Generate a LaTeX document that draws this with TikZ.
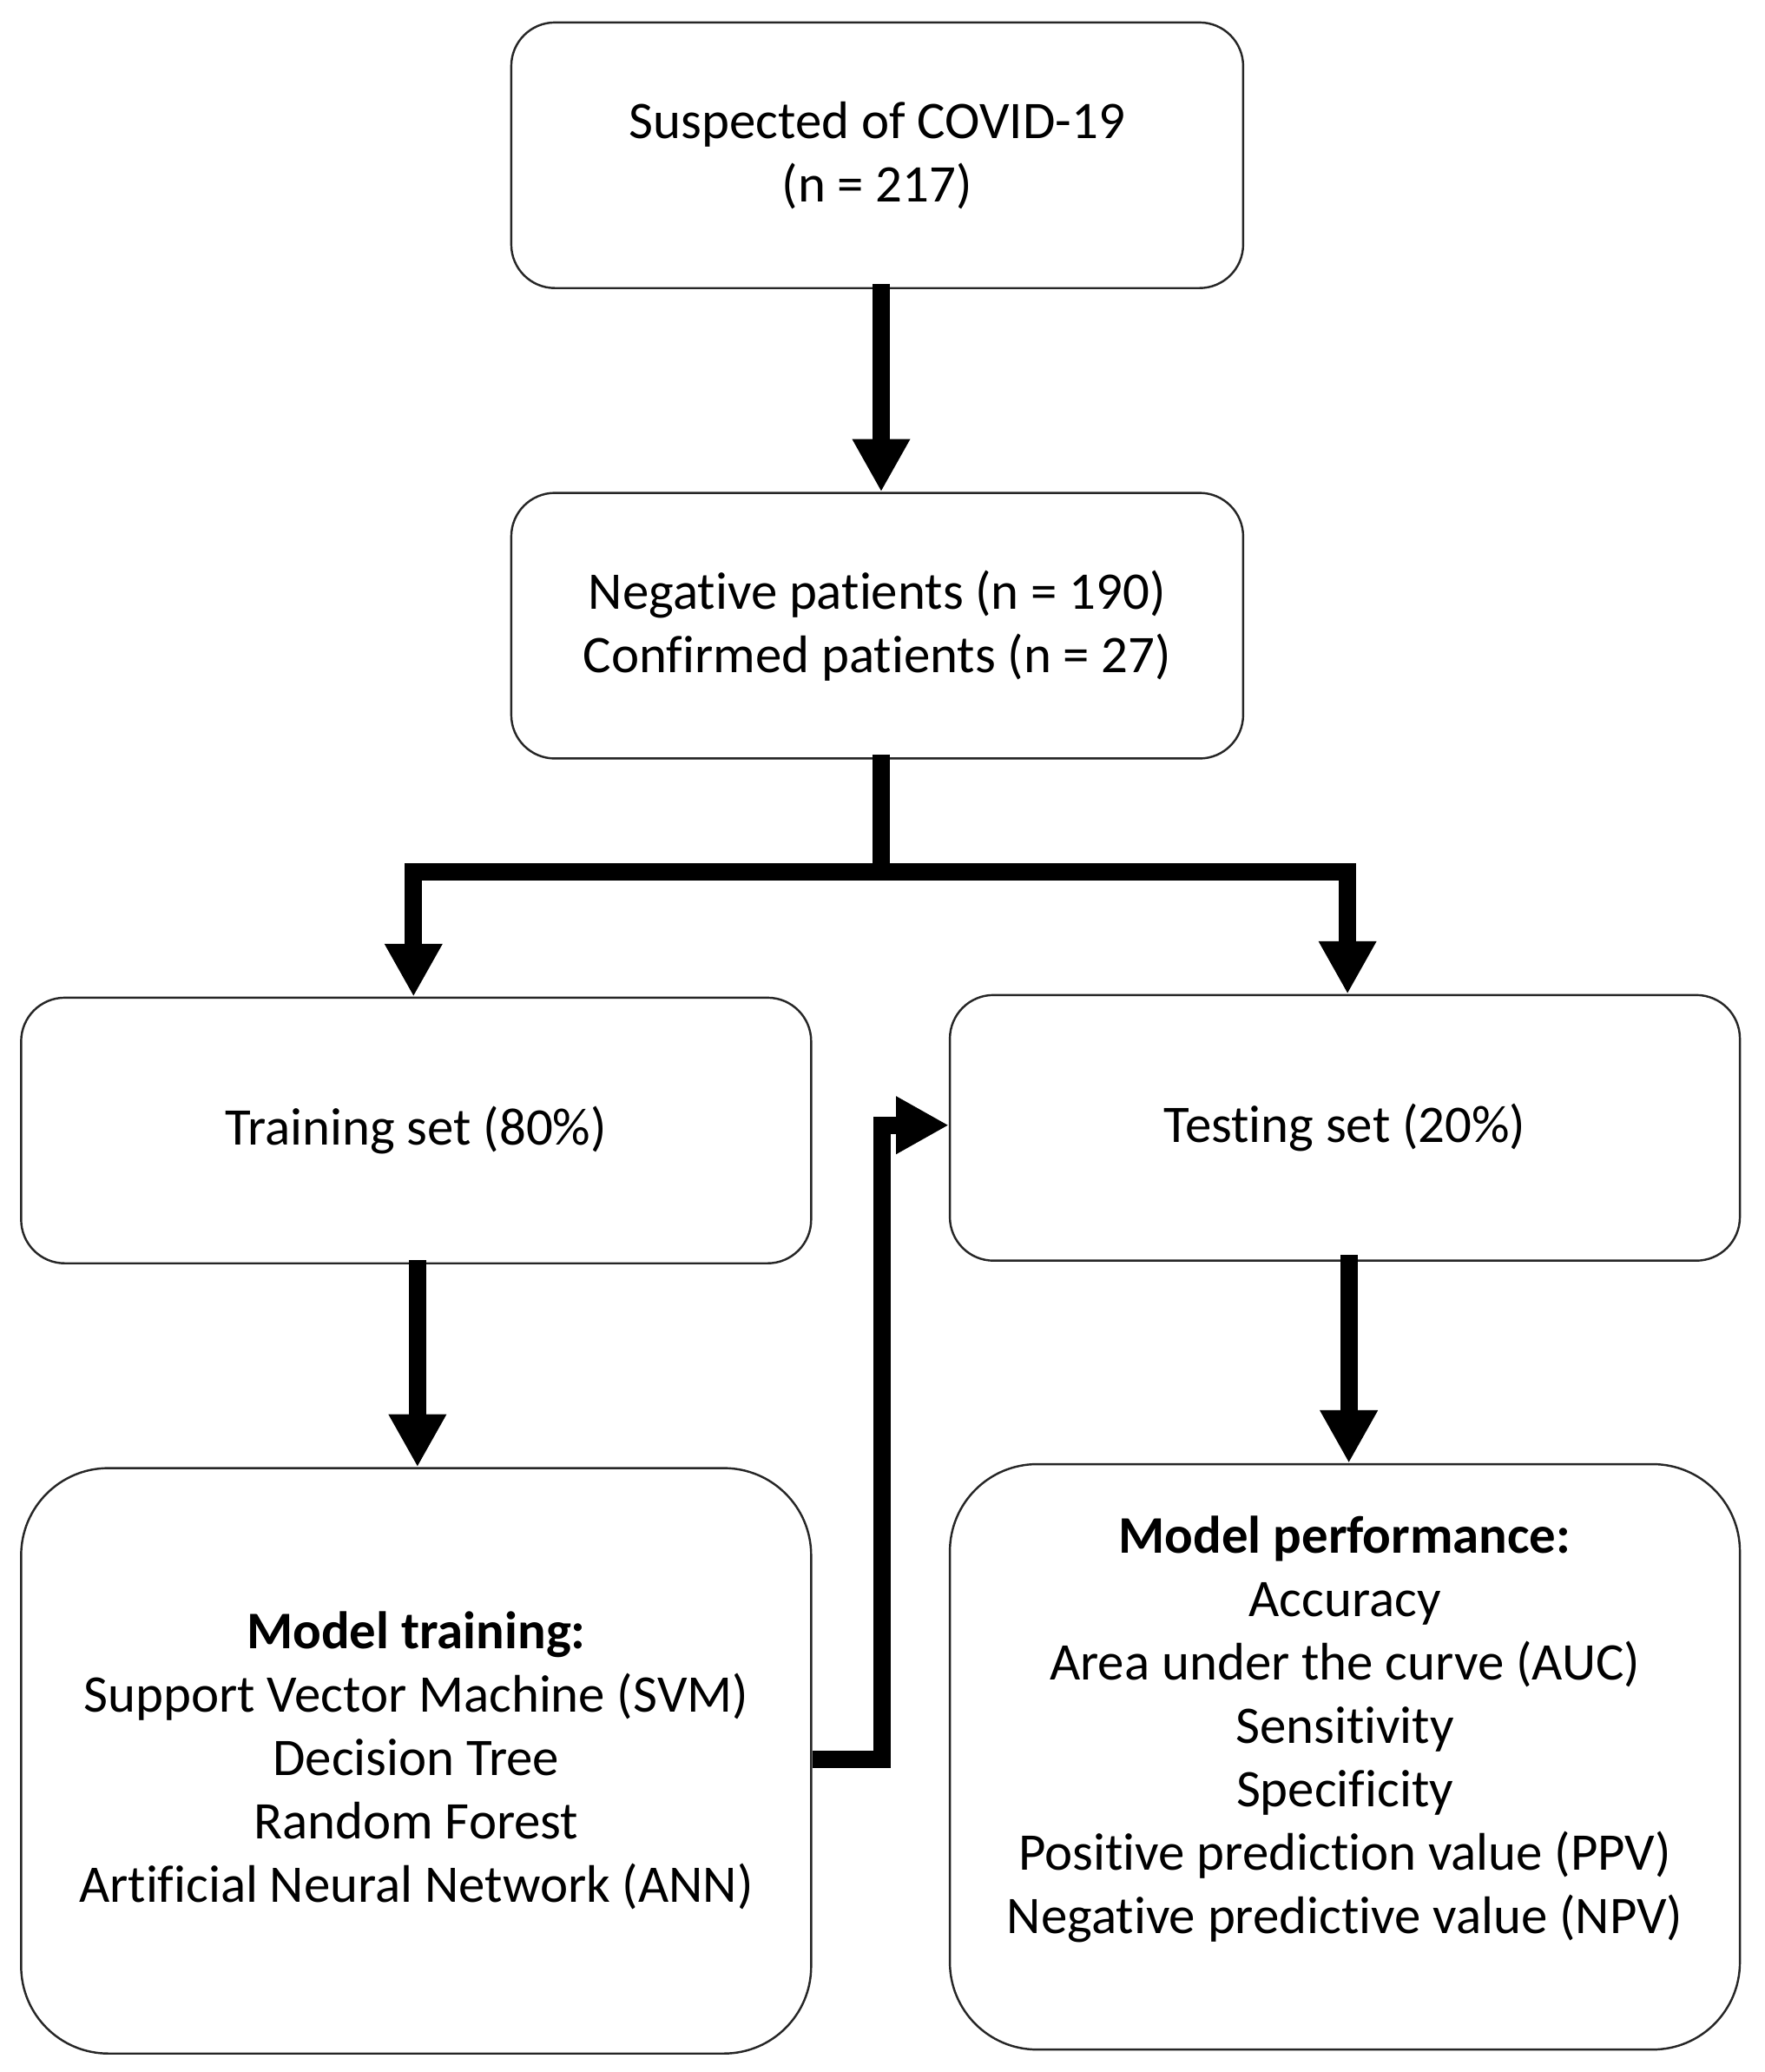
\documentclass[tikz,border=0pt]{standalone}
\usepackage{fontspec}
\setmainfont[Ligatures=NoCommon]{Carlito}
\usetikzlibrary{arrows.meta,calc}
\begin{document}
\begin{tikzpicture}[x=1pt,y=-1pt,
  box/.style={draw=black!85,line width=1.6pt,rounded corners=33pt,align=center,
    inner sep=0pt,font=\fontsize{40}{48}\selectfont},
  bigbox/.style={box,rounded corners=66pt,minimum width=598pt,minimum height=443pt},
  arr/.style={line width=13pt,-{Triangle[width=41pt,length=40pt]}},
  bar/.style={line width=13pt}]
\useasboundingbox (0,0) rectangle (1336,1568);
\node[box,minimum width=554pt,minimum height=201pt] (A) at (664,117.5)
  {\rule{0pt}{6pt}Suspected of COVID-19\\(n = 217)};
\node[box,minimum width=554pt,minimum height=201pt] (B) at (664,473.5)
  {\rule{0pt}{6pt}Negative patients (n = 190)\\Confirmed patients (n = 27)};
\node[box,minimum width=598pt,minimum height=201pt] (C) at (315,855.5)
  {Training set (80\%)};
\node[box,minimum width=598pt,minimum height=201pt] (D) at (1018,853.5)
  {Testing set (20\%)};
\node[bigbox] (E) at (315,1332.5)
  {\textbf{Model training:}\\Support Vector Machine (SVM)\\Decision Tree\\Random Forest\\Artificial Neural Network (ANN)};
\node[bigbox] (F) at (1018,1329.5) {};
\node[align=center,inner sep=0pt,font=\fontsize{40}{48}\selectfont] (Ft) at ($(F.center)+(0,-21)$)
  {\textbf{Model performance:}\\Accuracy\\Area under the curve (AUC)\\Sensitivity\\Specificity\\Positive prediction value (PPV)\\Negative predictive value (NPV)};
% connectors
\draw[arr] ([xshift=3pt,yshift=4pt]A.south) -- ([xshift=3pt]B.north);
\coordinate (split) at (667,660);
\draw[bar] ([xshift=3pt,yshift=4pt]B.south) -- (split);
\draw[arr] (split) -| ([xshift=-2pt]C.north);
\draw[arr] (split) -| ([xshift=2pt]D.north);
\draw[arr] ([xshift=1pt,yshift=3pt]C.south) -- ([xshift=1pt]E.north);
\draw[arr] ([xshift=3pt,yshift=5pt]D.south) -- ([xshift=3pt]F.north);
\draw[arr] ([yshift=1pt]E.east) -- ++(53,0) |- ([yshift=2pt]D.west);
\end{tikzpicture}
\end{document}
